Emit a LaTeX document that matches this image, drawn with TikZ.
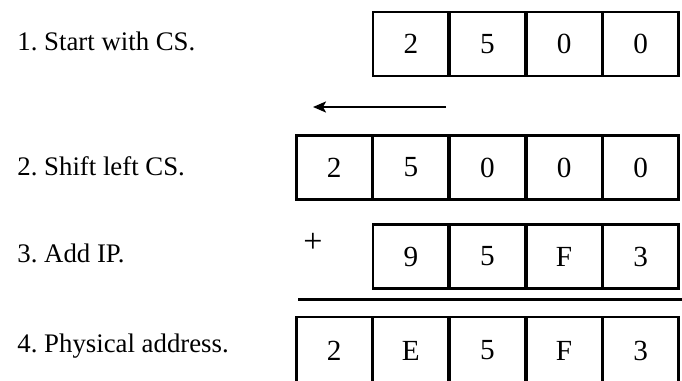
\documentclass[tikz,border=0pt]{standalone}
\usepackage{fontspec}
\setmainfont{Liberation Serif}
\usetikzlibrary{arrows.meta}
\frenchspacing

\begin{document}
\begin{tikzpicture}[
  x=0.5pt, y=-0.5pt,
  font=\fontsize{13.4}{16}\selectfont,
  >=Stealth,
  cell/.style={draw=black, line width=1.2pt, minimum width=37.7pt, minimum height=32pt, inner sep=0pt, outer sep=0pt, font=\fontsize{14.6}{17}\selectfont},
  steptext/.style={anchor=base west, inner sep=0pt},
  shiftarrow/.style={-{Stealth[length=6.5pt,width=5.5pt,inset=1.5pt]}, line width=1.1pt},
  sumrule/.style={draw=black, line width=1.5pt}
]
  \useasboundingbox (0,0) rectangle (682,381);
  % step labels
  \node[steptext] (lbl1) at (17,50) {1. Start with CS.};
  \node[steptext] (lbl2) at (17,175) {2. Shift left CS.};
  \node[steptext] (lbl3) at (17,262) {3. Add IP.};
  \node[steptext] (lbl4) at (17,352) {4. Physical address.};
  % code segment
  \foreach \dig [count=\k] in {2,5,0,0}
    \node[cell] (cs\k) at ({334.3+76.6*\k},44) {\dig};
  % shifted segment
  \coordinate (shiftfrom) at (446,107);
  \coordinate (shiftto) at (313,107);
  \draw[shiftarrow] (shiftfrom) -- (shiftto);
  \foreach \dig [count=\k] in {2,5,0,0,0}
    \node[cell] (sh\k) at ({257.7+76.6*\k},167.5) {\dig};
  % instruction pointer
  \node[inner sep=0pt, font=\fontsize{17}{20}\selectfont] (plus) at (313,243) {+};
  \foreach \dig [count=\k] in {9,5,F,3}
    \node[cell] (ip\k) at ({334.3+76.6*\k},256.5) {\dig};
  \coordinate (rulel) at (298,299);
  \coordinate (ruler) at (682,299);
  \draw[sumrule] (rulel) -- (ruler);
  % physical address
  \foreach \dig [count=\k] in {2,E,5,F,3}
    \node[cell, minimum height=33.5pt] (pa\k) at ({257.7+76.6*\k},350.5) {\dig};
\end{tikzpicture}
\end{document}
